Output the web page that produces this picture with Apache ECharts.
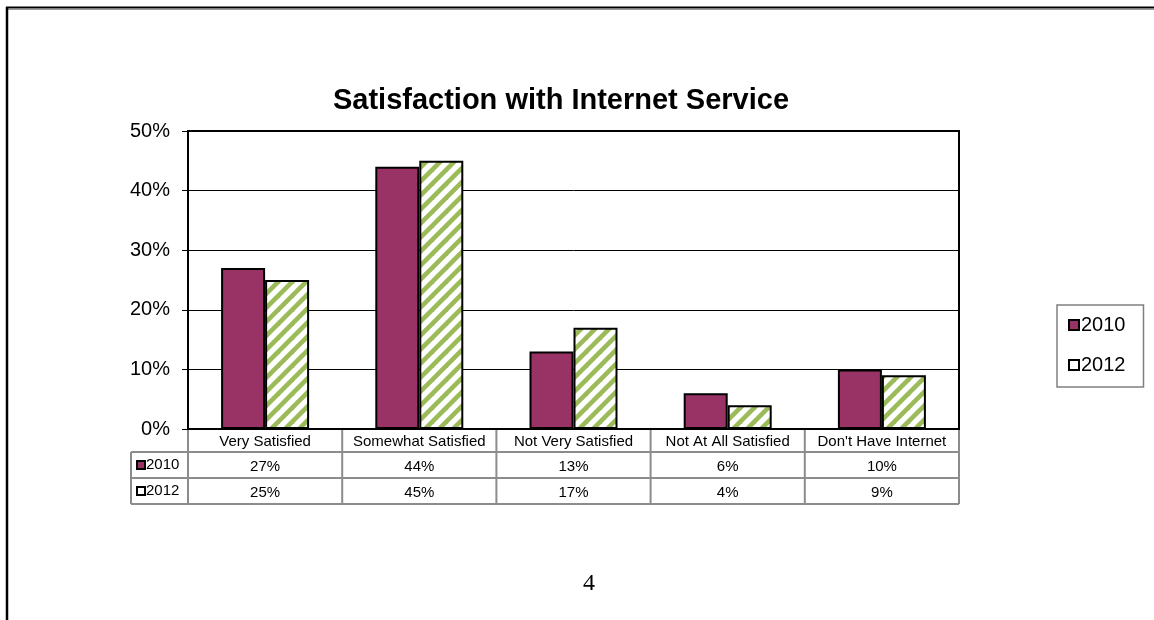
<!DOCTYPE html>
<html>
<head>
<meta charset="utf-8">
<style>
  html, body { margin: 0; padding: 0; background: #fff; }
  #chart { width: 1154px; height: 620px; }
</style>
<script src="https://cdn.jsdelivr.net/npm/echarts@6/dist/echarts.min.js"></script>
</head>
<body>
<div id="chart"></div>
<script>
// Survey categories and percentages per year
const categories = ['Very Satisfied', 'Somewhat Satisfied', 'Not Very Satisfied', 'Not At All Satisfied', "Don't Have Internet"];
const seriesNames = ['2010', '2012'];
const values2010 = [27, 44, 13, 6, 10];
const values2012 = [25, 45, 17, 4, 9];
const yTicks = [0, 10, 20, 30, 40, 50];

const FONT = "'Liberation Sans', Arial, sans-serif";
const MAROON = '#993366';
const GREEN = '#9BBB59';
const TABLE_LINE = '#8c8c8c';

// Diagonal green hatch tile for the 2012 bars
function hatchTile() {
  const s = 14;
  const c = document.createElement('canvas');
  c.width = s; c.height = s;
  const g = c.getContext('2d');
  g.fillStyle = '#fff';
  g.fillRect(0, 0, s, s);
  g.strokeStyle = GREEN;
  g.lineWidth = 4.6;
  g.lineCap = 'square';
  for (const k of [-s, 0, s]) {
    g.beginPath();
    g.moveTo(k - 2, s + 2);
    g.lineTo(k + s + 2, -2);
    g.stroke();
  }
  return c;
}
const hatch = { image: hatchTile(), repeat: 'repeat' };

const chart = echarts.init(document.getElementById('chart'), null, { renderer: 'canvas' });

const GRID = { left: 188, top: 131, width: 771, height: 298 };
const ROW1 = 25, ROW2 = 51; // offsets of the value rows under the axis

function valueAxis(values, offset) {
  return {
    type: 'category',
    data: categories,
    position: 'bottom',
    offset: offset,
    axisLine: { show: false },
    axisTick: { show: false },
    axisLabel: {
      interval: 0, margin: 5, fontSize: 15, fontFamily: FONT, color: '#000',
      formatter: (v, i) => values[i] + '%'
    }
  };
}

chart.setOption({
  animation: false,
  title: {
    text: 'Satisfaction with Internet Service',
    left: 556, top: 81, textAlign: 'center',
    textStyle: { fontSize: 29, fontWeight: 'bold', fontFamily: FONT, color: '#000' }
  },
  legend: {
    orient: 'vertical',
    left: 1057, top: 305,
    padding: [10, 18, 12, 11],
    itemGap: 20,
    itemWidth: 10, itemHeight: 10,
    icon: 'rect',
    borderColor: '#808080', borderWidth: 1.5,
    textStyle: { fontSize: 20, fontFamily: FONT, color: '#000', padding: [0, 0, 0, -3] },
    data: [
      { name: seriesNames[0] },
      { name: seriesNames[1], itemStyle: { color: '#fff' } }
    ]
  },
  grid: {
    left: GRID.left, top: GRID.top, width: GRID.width, height: GRID.height,
    show: true, borderColor: '#000', borderWidth: 2, containLabel: false
  },
  xAxis: [
    {
      type: 'category',
      data: categories,
      axisLine: { lineStyle: { color: '#000', width: 2 } },
      axisTick: { show: false },
      axisLabel: { interval: 0, margin: 5, fontSize: 15, fontFamily: FONT, color: '#000' }
    },
    valueAxis(values2010, ROW1),
    valueAxis(values2012, ROW2)
  ],
  yAxis: {
    type: 'value',
    min: yTicks[0], max: yTicks[yTicks.length - 1], interval: 10,
    axisLine: { show: true, lineStyle: { color: '#000', width: 2 } },
    axisTick: { show: true, length: 6, lineStyle: { color: '#000', width: 1 } },
    axisLabel: { margin: 18, fontSize: 20, fontFamily: FONT, color: '#000', formatter: '{value}%' },
    splitLine: { lineStyle: { color: '#000', width: 1 } }
  },
  series: [
    {
      name: seriesNames[0], type: 'bar', data: values2010,
      barWidth: 44, barGap: '0%',
      itemStyle: { color: MAROON, borderColor: '#000', borderWidth: 2 }
    },
    {
      name: seriesNames[1], type: 'bar', data: values2012,
      barWidth: 44,
      itemStyle: { color: hatch, borderColor: '#000', borderWidth: 2 }
    }
  ]
});

// Data table grid lines and row keys, placed from the axis scales
function drawTable() {
  const c0 = chart.convertToPixel({ xAxisIndex: 0 }, 0);
  const c1 = chart.convertToPixel({ xAxisIndex: 0 }, 1);
  const band = c1 - c0;
  const yBase = chart.convertToPixel({ yAxisIndex: 0 }, 0);
  const left = c0 - band / 2;
  const right = left + band * categories.length;
  const keyLeft = left - 57;
  const rowY = [yBase, yBase + 23, yBase + 49, yBase + 75];
  const els = [];
  const line = (x1, y1, x2, y2) => els.push({
    type: 'line', shape: { x1, y1, x2, y2 },
    style: { stroke: TABLE_LINE, lineWidth: 2 }, z: 5
  });
  for (let i = 0; i <= categories.length; i++) {
    const x = left + band * i;
    line(x, rowY[0] + 1, x, rowY[3]);
  }
  line(keyLeft, rowY[1], right, rowY[1]);
  line(keyLeft, rowY[2], right, rowY[2]);
  line(keyLeft, rowY[3], right, rowY[3]);
  line(keyLeft, rowY[1], keyLeft, rowY[3]);

  seriesNames.forEach((name, r) => {
    const cy = (rowY[r + 1] + rowY[r + 2]) / 2;
    els.push({
      type: 'rect', shape: { x: keyLeft + 6, y: cy - 4, width: 8, height: 8 },
      style: { fill: r === 0 ? MAROON : '#fff', stroke: '#000', lineWidth: 2 }, z: 6
    });
    els.push({
      type: 'text', x: keyLeft + 15, y: cy,
      style: { text: name, font: '15px ' + FONT, fill: '#000', verticalAlign: 'middle', align: 'left' }, z: 6
    });
  });

  // page frame and page number
  els.push({ type: 'line', shape: { x1: 6, y1: 7.5, x2: 1154, y2: 7.5 }, style: { stroke: '#000', lineWidth: 2 } });
  els.push({ type: 'line', shape: { x1: 6, y1: 9.5, x2: 1154, y2: 9.5 }, style: { stroke: '#9a9a9a', lineWidth: 1 } });
  els.push({ type: 'line', shape: { x1: 7, y1: 7, x2: 7, y2: 620 }, style: { stroke: '#000', lineWidth: 2.5 } });
  els.push({
    type: 'text', x: 589, y: 584,
    style: { text: '4', font: "24px 'Liberation Serif', 'Times New Roman', serif", fill: '#000', align: 'center', verticalAlign: 'middle' }
  });

  chart.setOption({ graphic: els });
}
drawTable();
</script>
</body>
</html>
